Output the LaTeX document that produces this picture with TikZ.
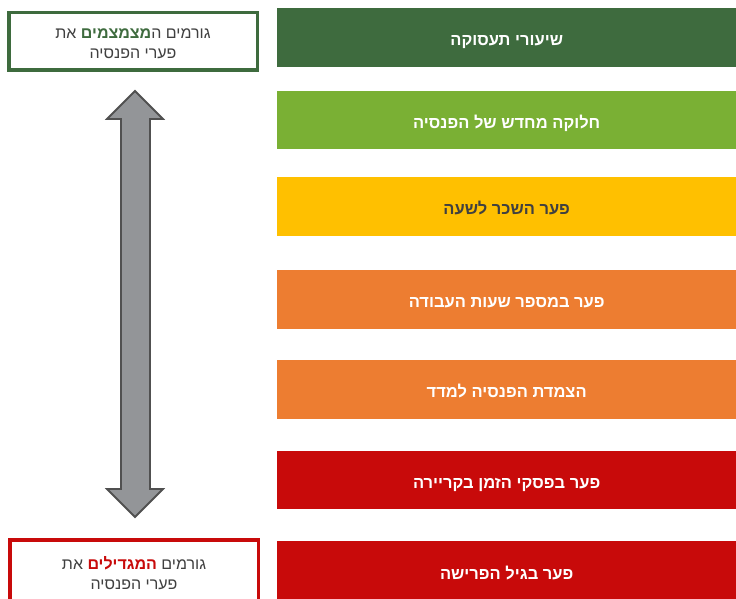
\documentclass[tikz,border=0pt]{standalone}
\usepackage{fontspec}
\TeXXeTstate=1
\newfontfamily\hebfont[Script=Hebrew]{Liberation Sans}
\definecolor{dgreen}{HTML}{3E6B3E}
\definecolor{lgreen}{HTML}{7AB034}
\definecolor{myyellow}{HTML}{FFC000}
\definecolor{myorange}{HTML}{ED7D31}
\definecolor{myred}{HTML}{C80A0A}
\definecolor{txtgray}{HTML}{404040}
\definecolor{arrgray}{HTML}{939598}
\definecolor{arredge}{HTML}{505050}
\newcommand\rtl[1]{\hbox{\beginR #1\endR}}
\tikzset{
  bar/.style={fill=#1, draw=none, minimum width=459pt, minimum height=58pt, inner sep=0pt, anchor=north west,
    font=\hebfont\bfseries\fontsize{16.5}{19}\selectfont, text=white, text height=16pt, text depth=0pt},
  sidebox/.style={draw=#1, line width=3.5pt, fill=white, minimum width=248.5pt, inner sep=0pt},
  sidetext/.style={inner sep=0pt, font=\hebfont\fontsize{16}{20}\selectfont, text=txtgray, align=center}
}
\begin{document}
\begin{tikzpicture}[x=1pt,y=-1pt]
\useasboundingbox (0,0) rectangle (736,599);
\node[bar=dgreen, minimum height=59pt] (b1) at (277,8) {\beginR שיעורי תעסוקה\endR};
\node[bar=lgreen] (b2) at (277,91) {\beginR חלוקה מחדש של הפנסיה\endR};
\node[bar=myyellow, minimum height=59pt, text=txtgray] (b3) at (277,177) {\beginR פער השכר לשעה\endR};
\node[bar=myorange, minimum height=59pt] (b4) at (277,270) {\beginR פער במספר שעות העבודה\endR};
\node[bar=myorange, minimum height=59pt] (b5) at (277,360) {\beginR הצמדת הפנסיה למדד\endR};
\node[bar=myred] (b6) at (277,451) {\beginR פער בפסקי הזמן בקריירה\endR};
\node[bar=myred, minimum height=60pt] (b7) at (277,541) {\beginR פער בגיל הפרישה\endR};
% side boxes
\node[sidebox=dgreen, minimum height=57.5pt] (top) at (133,41.5) {};
\node[sidetext] (toptext) at (133,43.5)
  {\rtl{את}\ \hbox{\color{dgreen}\bfseries\beginR מצמצמים\endR}\rtl{ה}\ \rtl{גורמים}\\\rtl{פערי הפנסיה}};
\node[sidebox=myred, minimum height=64pt] (bot) at (134,572) {};
\node[sidetext] (bottext) at (134,573)
  {\rtl{את}\ \hbox{\color{myred}\bfseries\beginR המגדילים\endR}\ \rtl{גורמים}\\\rtl{פערי הפנסיה}};
% double arrow
\draw[fill=arrgray, draw=arredge, line width=1.8pt, line join=miter]
  (135,91) -- (163,119) -- (150,119) -- (150,489) -- (163,489) -- (135,517)
  -- (107,489) -- (121,489) -- (121,119) -- (107,119) -- cycle;
\end{tikzpicture}
\end{document}
